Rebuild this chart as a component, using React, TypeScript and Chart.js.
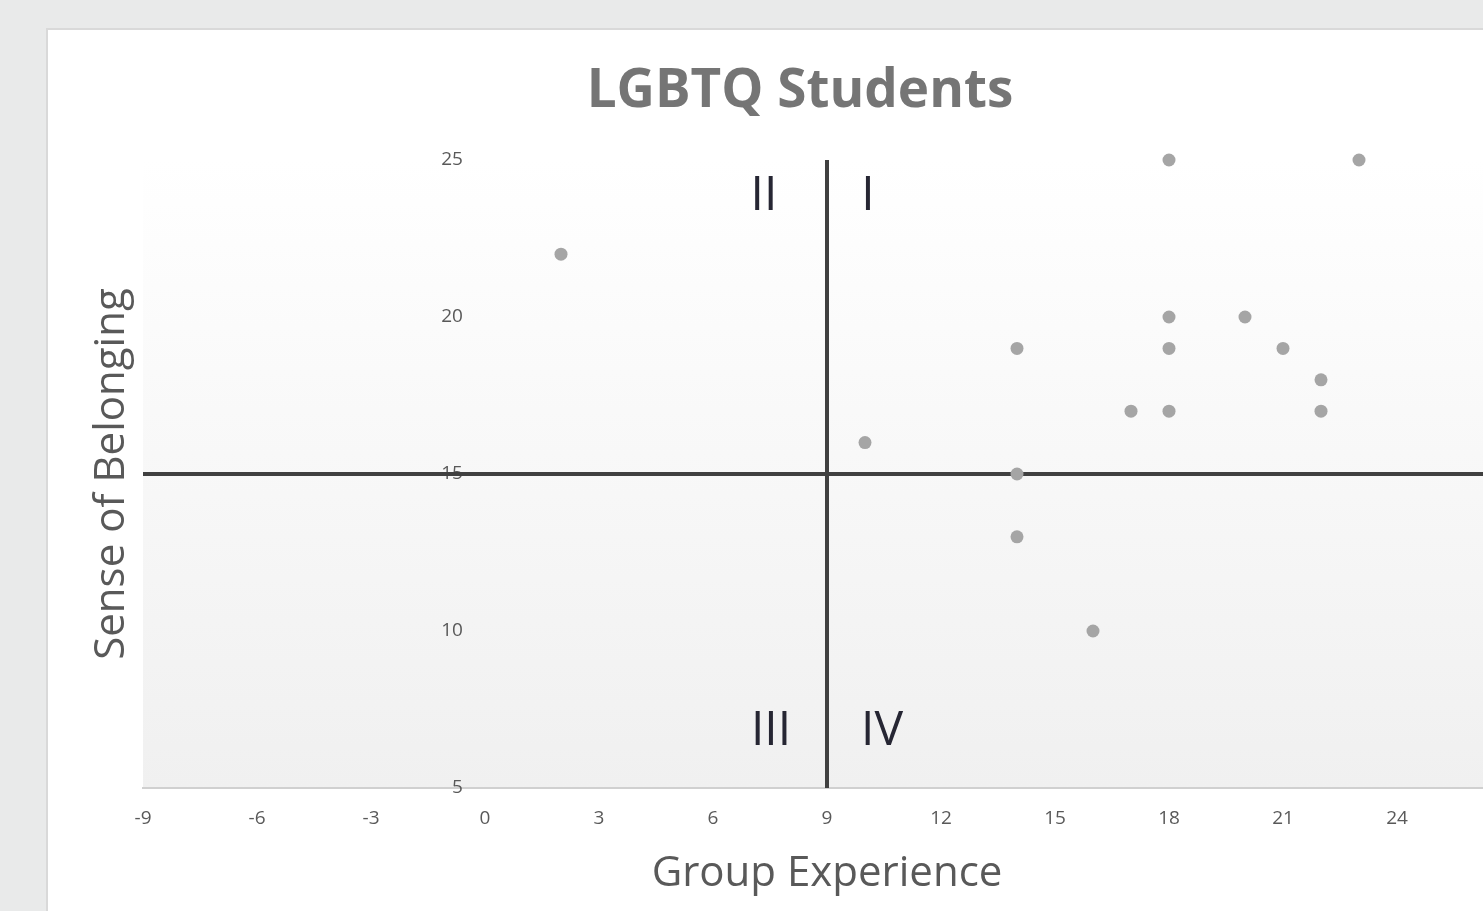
import React, { useEffect, useRef } from "react";
import { Chart, registerables } from "chart.js";

Chart.register(...registerables);

const groupExperience = [18, 23, 2, 18, 20, 14, 18, 21, 22, 17, 18, 22, 10, 14, 14, 16];
const senseOfBelonging = [25, 25, 22, 20, 20, 19, 19, 19, 18, 17, 17, 17, 16, 15, 13, 10];
const quadrantLabels = ["I", "II", "III", "IV"];
const quadrantCenter = { x: 9, y: 15 };
const xRange = { min: -9, max: 27, step: 3 };
const yRange = { min: 5, max: 25, step: 5 };
const chartTitle = "LGBTQ Students";
const xTitle = "Group Experience";
const yTitle = "Sense of Belonging";

const FONT = "'Open Sans', 'Noto Sans', sans-serif";
const CW = 1506;
const CH = 880;
// y axis crosses at x = 0; labels sit a small gap to its left (in x-units)
const yAxisLabelAnchor = -0.58;

const decorPlugin = {
  id: "decor",
  beforeDraw(chart: any) {
    const { ctx, chartArea } = chart;
    const g = ctx.createLinearGradient(0, chartArea.top, 0, chartArea.bottom);
    g.addColorStop(0, "#ffffff");
    g.addColorStop(1, "#f0f0f0");
    ctx.save();
    ctx.fillStyle = g;
    ctx.fillRect(chartArea.left, chartArea.top, chartArea.right - chartArea.left, chartArea.bottom - chartArea.top);
    ctx.restore();
  },
  beforeDatasetsDraw(chart: any) {
    const { ctx, chartArea, scales } = chart;
    const vx = scales.x.getPixelForValue(quadrantCenter.x);
    const hy = scales.y.getPixelForValue(quadrantCenter.y);
    ctx.save();
    ctx.strokeStyle = "#404040";
    ctx.lineWidth = 4;
    ctx.beginPath();
    ctx.moveTo(vx, chartArea.top);
    ctx.lineTo(vx, chartArea.bottom);
    ctx.moveTo(chartArea.left, hy);
    ctx.lineTo(chartArea.right, hy);
    ctx.stroke();
    ctx.fillStyle = "#262633";
    ctx.font = `48px ${FONT}`;
    ctx.textAlign = "center";
    ctx.textBaseline = "middle";
    const topY = chartArea.top + 36;
    const botY = chartArea.bottom - 57;
    ctx.fillText(quadrantLabels[0], vx + 41, topY);
    ctx.fillText(quadrantLabels[1], vx - 63, topY);
    ctx.fillText(quadrantLabels[2], vx - 56, botY);
    ctx.fillText(quadrantLabels[3], vx + 55, botY);
    ctx.restore();
  },
  afterDraw(chart: any) {
    const { ctx, chartArea } = chart;
    const cx = (chartArea.left + chartArea.right) / 2;
    const cy = (chartArea.top + chartArea.bottom) / 2;
    ctx.save();
    ctx.textAlign = "center";
    ctx.textBaseline = "middle";
    ctx.fillStyle = "#757575";
    ctx.font = `bold 53px ${FONT}`;
    ctx.fillText(chartTitle, 752, 62);
    ctx.fillStyle = "#595959";
    ctx.font = `42px ${FONT}`;
    ctx.fillText(xTitle, cx, 844);
    ctx.translate(64, cy);
    ctx.rotate(-Math.PI / 2);
    ctx.fillText(yTitle, 0, 0);
    ctx.restore();
  },
};

export default function App() {
  const ref = useRef<HTMLCanvasElement | null>(null);
  useEffect(() => {
    if (!ref.current) return;
    const points = groupExperience.map((x, i) => ({ x, y: senseOfBelonging[i] }));
    const chart = new Chart(ref.current, {
      type: "scatter",
      data: {
        datasets: [
          {
            data: points,
            backgroundColor: "#a5a5a5",
            borderWidth: 0,
            pointRadius: 6.5,
            clip: false,
          } as any,
        ],
      },
      options: {
        animation: false,
        responsive: false,
        layout: { padding: { left: 95, top: 130, right: 43, bottom: 62 } },
        plugins: { legend: { display: false }, tooltip: { enabled: false }, title: { display: false } },
        scales: {
          x: {
            type: "linear",
            position: "bottom",
            min: xRange.min,
            max: xRange.max,
            afterFit(scale: any) {
              scale.height = 60;
            },
            ticks: {
              stepSize: xRange.step,
              color: "#595959",
              font: { family: FONT, size: 19 },
              padding: 19,
              maxRotation: 0,
              autoSkip: false,
            },
            grid: { display: true, drawOnChartArea: false, drawTicks: false },
            border: { display: true, color: "#d0d0d0", width: 2 },
          },
          y: {
            type: "linear",
            position: { x: yAxisLabelAnchor } as any,
            min: yRange.min,
            max: yRange.max,
            ticks: {
              stepSize: yRange.step,
              color: "#595959",
              font: { family: FONT, size: 19 },
            },
            grid: { display: false, drawTicks: false },
            border: { display: false },
          },
        },
      },
      plugins: [decorPlugin],
    });
    return () => chart.destroy();
  }, []);

  return (
    <div style={{ position: "fixed", inset: 0, overflow: "hidden", background: "#e9eaea" }}>
      <div
        style={{
          position: "absolute",
          left: 46,
          top: 28,
          width: CW,
          height: 900,
          border: "2px solid #d9d9d9",
          background: "#ffffff",
        }}
      >
        <canvas ref={ref} width={CW} height={CH} style={{ display: "block", width: CW, height: CH }} />
      </div>
    </div>
  );
}
